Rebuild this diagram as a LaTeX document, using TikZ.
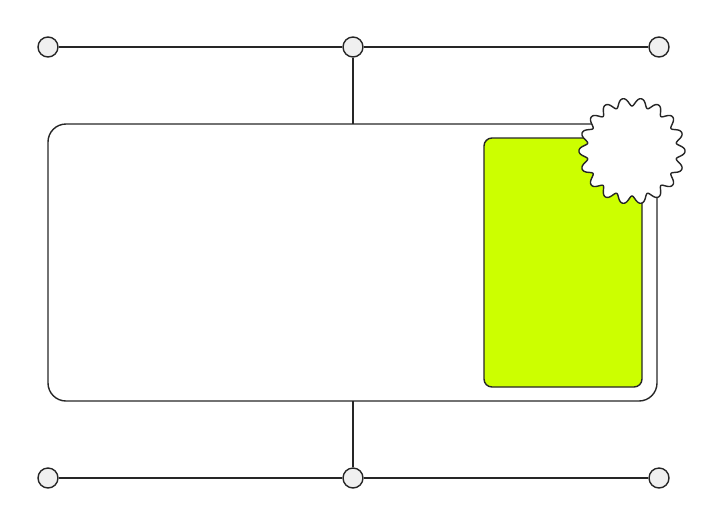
\documentclass[tikz,border=0pt]{standalone}
\begin{document}
\begin{tikzpicture}[x=1pt,y=-1pt,
  ln/.style={draw=black!85,line width=1.4pt},
  dot/.style={circle,draw=black!85,line width=1.4pt,fill=black!6,minimum size=20pt,inner sep=0pt}]
\useasboundingbox (0,0) rectangle (706,523);
\definecolor{lime}{RGB}{204,255,0}
% circles
\node[dot] (t1) at (48,47) {};
\node[dot] (t2) at (353,47) {};
\node[dot] (t3) at (659,47) {};
\node[dot] (b1) at (48,478) {};
\node[dot] (b2) at (353,478) {};
\node[dot] (b3) at (659,478) {};
\coordinate (topc) at (353,124);
\coordinate (botc) at (353,401);
\draw[ln] (t1) -- (t2) (t2) -- (t3) (b1) -- (b2) (b2) -- (b3);
\draw[ln] (t2) -- (topc);
\draw[ln] (b2) -- (botc);
% main box
\draw[ln,rounded corners=18pt] (48,124) rectangle (657,401);
% green panel
\draw[ln,fill=lime,rounded corners=8pt] (484,138) rectangle (642,387);
% gear
\draw[ln,fill=white,line join=round] plot[domain=0:360,samples=720,smooth]
  ({632+(49.5+4*(cos(18*\x)-0.12*cos(36*\x)))*cos(\x)},{151+(49.5+4*(cos(18*\x)-0.12*cos(36*\x)))*sin(\x)}) -- cycle;
\end{tikzpicture}
\end{document}
